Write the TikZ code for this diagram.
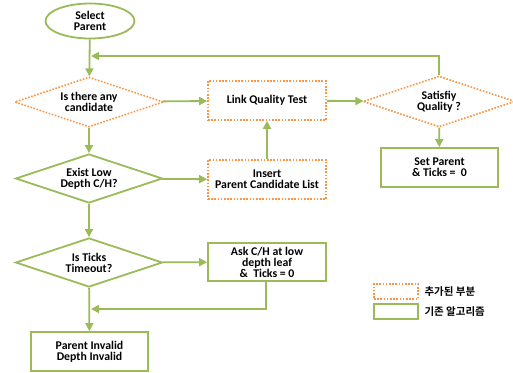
\documentclass[tikz,border=0pt]{standalone}
\usepackage{fontspec}
\setmainfont{Carlito}
\newfontfamily\kofont{Noto Sans CJK KR}[BoldFont={Noto Sans CJK KR Bold}]
\usetikzlibrary{shapes.geometric,arrows.meta}
\definecolor{grn}{HTML}{9BBB59}
\definecolor{org}{HTML}{F79646}
\begin{document}
\begin{tikzpicture}[x=1pt,y=-1pt,
  txt/.style={font=\bfseries\fontsize{11.8}{11}\selectfont, align=center, text=black},
  gline/.style={draw=grn, line width=1.8pt},
  oline/.style={draw=org, line width=1.6pt, dash pattern=on 1.6pt off 1.6pt},
  gbox/.style={txt, gline, rectangle, fill=white, inner sep=0pt},
  obox/.style={txt, oline, rectangle, fill=white, inner sep=0pt},
  gdia/.style={txt, gline, diamond, aspect=3, inner sep=0pt, fill=white},
  odia/.style={txt, oline, diamond, aspect=3, inner sep=0pt, fill=white},
  arr/.style={draw=grn, line width=1.8pt, -{Triangle[length=8pt,width=8pt]}},
  legtxt/.style={font=\kofont\bfseries\fontsize{10.5}{12}\selectfont, anchor=west, text=black}
]
\useasboundingbox (0,0) rectangle (513,372);

\node[txt, gline, ellipse, fill=white, minimum width=89pt, minimum height=35pt, inner sep=0pt] (sel) at (90,21) {Select\\Parent};
\node[odia, minimum width=149pt, minimum height=50pt] (d1) at (89,102) {Is there any\\candidate};
\node[obox, minimum width=118pt, minimum height=39pt] (lqt) at (267,100.5) {Link Quality Test};
\node[odia, minimum width=152pt, minimum height=51pt] (sat) at (439,101.5) {Satisfiy\\Quality ?};
\node[gbox, minimum width=117pt, minimum height=39pt] (setp) at (439.5,167.5) {Set Parent\\\& Ticks =\ \ 0};
\node[gdia, minimum width=147pt, minimum height=49pt] (d2) at (89,178.5) {Exist Low\\Depth C/H?};
\node[obox, minimum width=118pt, minimum height=39pt] (ins) at (267,179.5) {Insert\\Parent Candidate List};
\node[gdia, minimum width=147pt, minimum height=49pt] (d3) at (89,262.5) {Is Ticks\\Timeout?};
\node[gbox, minimum width=118pt, minimum height=38pt] (ask) at (267,262) {Ask C/H at low\\depth leaf\\\&\ \ Ticks =\ 0};
\node[gbox, minimum width=117pt, minimum height=39pt] (pinv) at (89.5,351.5) {Parent Invalid\\Depth Invalid};

\coordinate (fb1) at (91,56);
\coordinate (fb2) at (91,309);

\draw[arr] (sel) -- (d1);
\draw[arr] (d1) -- (lqt);
\draw[arr] (lqt) -- (sat);
\draw[arr] (sat) -- (setp);
\draw[arr] (sat.north) |- (fb1);
\draw[arr] (d1) -- (d2);
\draw[arr] (d2) -- (ins);
\draw[arr] (ins) -- (lqt);
\draw[arr] (d2) -- (d3);
\draw[arr] (d3) -- (ask);
\draw[arr] (d3) -- (pinv);
\draw[arr] (ask.south -| 266,0) |- (fb2);

\node[oline, rectangle, minimum width=44pt, minimum height=15pt, inner sep=0pt] (lego) at (396,291.5) {};
\node[gline, rectangle, minimum width=44pt, minimum height=15pt, inner sep=0pt] (legg) at (396,311.5) {};
\node[legtxt] (lto) at (421,292) {추가된 부분};
\node[legtxt] (ltg) at (421,312) {기존 알고리즘};
\end{tikzpicture}
\end{document}
